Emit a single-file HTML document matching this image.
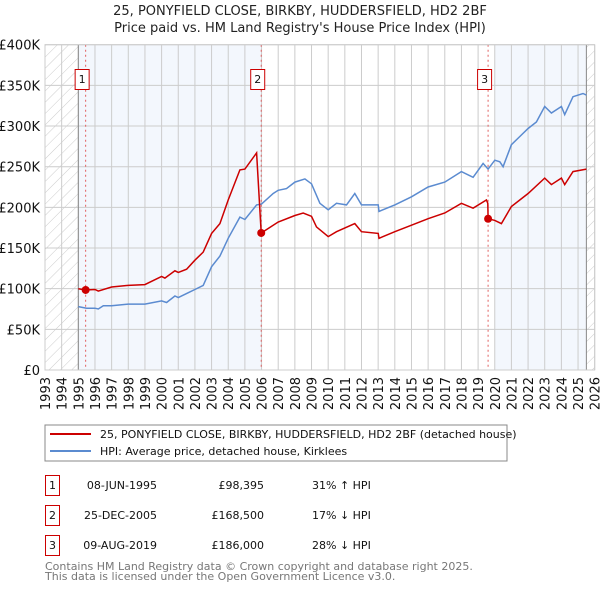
<!DOCTYPE html>
<html><head><meta charset="utf-8"><style>
body{margin:0;background:#fff;font-family:"DejaVu Sans","Liberation Sans",sans-serif;}
svg text{font-family:"DejaVu Sans","Liberation Sans",sans-serif;}
</style></head><body>
<svg id="chart" width="600" height="590" viewBox="0 0 600 590" xmlns="http://www.w3.org/2000/svg">
<defs><pattern id="hatch" patternUnits="userSpaceOnUse" width="8" height="8" patternTransform="rotate(45)"><line x1="0" y1="0" x2="0" y2="8" stroke="#ccc" stroke-width="1"/></pattern></defs>
<text x="300" y="15" text-anchor="middle" font-size="13" fill="#222">25, PONYFIELD CLOSE, BIRKBY, HUDDERSFIELD, HD2 2BF</text>
<text x="300" y="32" text-anchor="middle" font-size="13" fill="#222">Price paid vs. HM Land Registry's House Price Index (HPI)</text>
<g id="plot"></g>
<g>
<rect x="45" y="425" width="462" height="36" fill="#fff" stroke="#888" stroke-width="1"/>
<line x1="50" y1="434" x2="91" y2="434" stroke="#cc0000" stroke-width="2"/>
<text x="100" y="438" font-size="11" fill="#111">25, PONYFIELD CLOSE, BIRKBY, HUDDERSFIELD, HD2 2BF (detached house)</text>
<line x1="50" y1="451" x2="91" y2="451" stroke="#5b8bd0" stroke-width="2"/>
<text x="100" y="455" font-size="11" fill="#111">HPI: Average price, detached house, Kirklees</text>
</g>
<g font-size="11" fill="#111">
<rect x="45.5" y="475.5" width="14" height="20" fill="#fff" stroke="#cc0000"/><text x="52.5" y="489" text-anchor="middle">1</text>
<text x="157" y="489" text-anchor="end">08-JUN-1995</text><text x="264" y="489" text-anchor="end">£98,395</text><text x="312" y="489">31% ↑ HPI</text>
<rect x="45.5" y="505.5" width="14" height="20" fill="#fff" stroke="#cc0000"/><text x="52.5" y="519" text-anchor="middle">2</text>
<text x="157" y="519" text-anchor="end">25-DEC-2005</text><text x="264" y="519" text-anchor="end">£168,500</text><text x="312" y="519">17% ↓ HPI</text>
<rect x="45.5" y="535.5" width="14" height="20" fill="#fff" stroke="#cc0000"/><text x="52.5" y="549" text-anchor="middle">3</text>
<text x="157" y="549" text-anchor="end">09-AUG-2019</text><text x="264" y="549" text-anchor="end">£186,000</text><text x="312" y="549">28% ↓ HPI</text>
</g>
<text x="45" y="570" font-size="11" fill="#777">Contains HM Land Registry data © Crown copyright and database right 2025.</text>
<text x="45" y="580" font-size="11" fill="#777">This data is licensed under the Open Government Licence v3.0.</text>
</svg>
<script>
const hpiYears=[1995,1995.5,1996,1996.2,1996.5,1997,1998,1999,2000,2000.3,2000.8,2001,2001.6,2002,2002.5,2003,2003.5,2004,2004.7,2005,2005.7,2006,2006.7,2007,2007.5,2008,2008.6,2009,2009.5,2010,2010.5,2011.1,2011.6,2012,2013,2013.05,2014,2015,2016,2017,2018,2018.7,2019.3,2019.6,2020,2020.3,2020.5,2021,2021.5,2022,2022.5,2023,2023.4,2024,2024.2,2024.7,2025.3,2025.5];
const hpiValues=[78,76,76,75,79,79,81,81,85,83,91,89,95,99,104,127,140,162,188,185,203,204,217,221,223,231,235,229,205,197,205,203,217,203,203,195,203,213,225,231,244,237,254,247,258,256,250,277,287,297,305,324,316,324,314,336,340,338];
const ppYears=[1995,1995.44,1996,1996.2,1997,1998,1999,2000,2000.2,2000.8,2001,2001.5,2002,2002.5,2003,2003.5,2004,2004.7,2005,2005.7,2005.98,2006.7,2007,2008,2008.5,2009,2009.3,2010,2010.5,2011.6,2012,2013,2013.05,2014,2015,2016,2017,2018,2018.7,2019.5,2019.58,2019.6,2020,2020.4,2021,2022,2023,2023.4,2024,2024.2,2024.7,2025.5];
const ppValues=[100,98.4,99,97,102,104,105,115,113,122,120,124,135,145,168,180,209,246,247,267,168.5,178,182,190,193,189,176,164,170,180,170,168,162,170,178,186,193,205,199,209,205,186,184,180,201,217,236,228,236,228,244,247];
const saleYears=[1995.44,2005.98,2019.6];
const saleValues=[98.395,168.5,186];
const saleLabels=["1","2","3"];
const yTicks=[0,50,100,150,200,250,300,350,400];
const yTickLabels=["£0","£50K","£100K","£150K","£200K","£250K","£300K","£350K","£400K"];
const xTicks=[1993,1994,1995,1996,1997,1998,1999,2000,2001,2002,2003,2004,2005,2006,2007,2008,2009,2010,2011,2012,2013,2014,2015,2016,2017,2018,2019,2020,2021,2022,2023,2024,2025,2026];

const L=45,R=594.7,T=44.7,B=370;
const X=y=>L+(y-1993)/33*(R-L);
const Y=v=>B-v/400*(B-T);
const NS="http://www.w3.org/2000/svg";
const g=document.getElementById('plot');
function mk(tag,attrs,parent){const e=document.createElementNS(NS,tag);for(const k in attrs)e.setAttribute(k,attrs[k]);(parent||g).appendChild(e);return e;}
let e;
e=mk('rect',{x:L,y:T,width:R-L,height:B-T,fill:'#fff'});


e=mk('rect',{x:X(1995),y:T,width:X(2005.98)-X(1995),height:B-T,fill:'#eef3fc',opacity:0.7});


e=mk('rect',{x:X(2020),y:T,width:X(2025.5)-X(2020),height:B-T,fill:'#eef3fc',opacity:0.7});


e=mk('rect',{x:L,y:T,width:X(1995)-L,height:B-T,fill:'url(#hatch)'});


e=mk('rect',{x:X(2025.5),y:T,width:R-X(2025.5),height:B-T,fill:'url(#hatch)'});


yTicks.forEach((v,i)=>{
  e=mk('line',{x1:L,x2:R,y1:Y(v),y2:Y(v),stroke:'#ccc','stroke-width':1});
  
  
  e=mk('text',{x:L-5,y:Y(v)+5,'text-anchor':'end','font-size':13,fill:'#111'});
  e.textContent=yTickLabels[i];
  
  
});
xTicks.forEach(yr=>{
  e=mk('line',{x1:X(yr),x2:X(yr),y1:T,y2:B,stroke:'#ccc','stroke-width':1});
  
  
  e=mk('text',{x:0,y:0,'text-anchor':'end','font-size':13,fill:'#111',transform:`translate(${X(yr)+5},${B+7}) rotate(-90)`});
  e.textContent=yr;
  
  
});
e=mk('line',{x1:X(1995),x2:X(1995),y1:T,y2:B,stroke:'#888'});


e=mk('line',{x1:X(2025.5),x2:X(2025.5),y1:T,y2:B,stroke:'#888'});


saleYears.forEach((yr,i)=>{
  e=mk('line',{x1:X(yr),x2:X(yr),y1:T,y2:B,stroke:'#e06060','stroke-dasharray':'2,3','stroke-width':1});
  
  
});
const path=(xs,vs)=>xs.map((x,i)=>(i?'L':'M')+X(x).toFixed(1)+','+Y(vs[i]).toFixed(1)).join('');
e=mk('path',{d:path(hpiYears,hpiValues),fill:'none',stroke:'#5b8bd0','stroke-width':1.5});


e=mk('path',{d:path(ppYears,ppValues),fill:'none',stroke:'#cc0000','stroke-width':1.5});


saleYears.forEach((yr,i)=>{
  e=mk('circle',{cx:X(yr),cy:Y(saleValues[i]),r:4,fill:'#cc0000'});
  
  
  e=mk('rect',{x:X(yr)-10.5,y:69.5,width:14,height:20,fill:'#fff',stroke:'#cc0000'});
  
  
  e=mk('text',{x:X(yr)-3.5,y:83,'text-anchor':'middle','font-size':11,fill:'#111'});
  e.textContent=saleLabels[i];
  
  
});
e=mk('rect',{x:L,y:T,width:R-L,height:B-T,fill:'none',stroke:'#ccc'});


</script>
</body></html>
